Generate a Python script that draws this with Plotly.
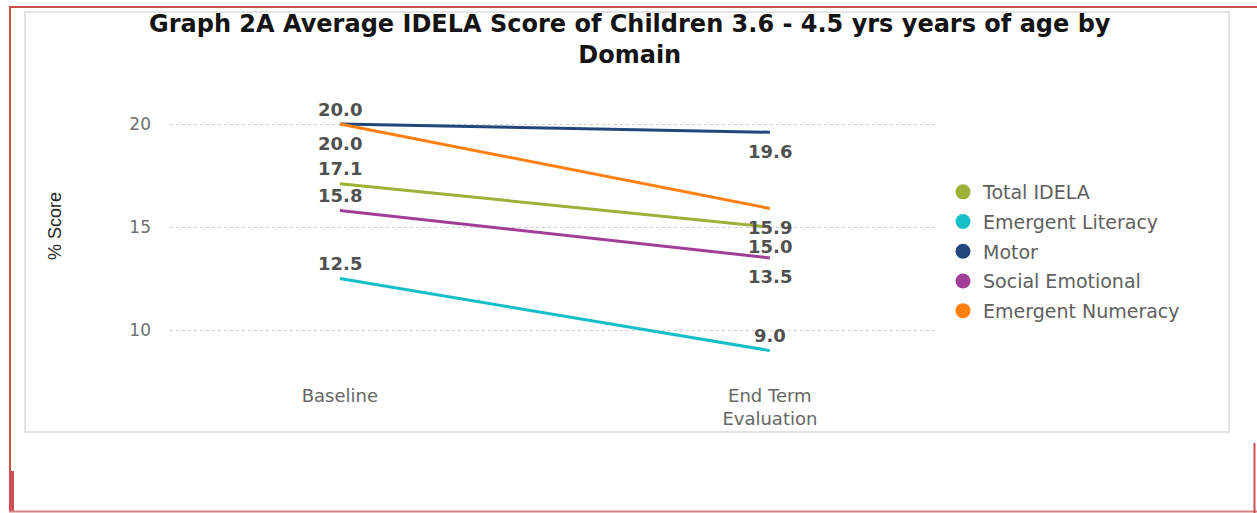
import plotly.graph_objects as go

# ---- data ----
categories = ["Baseline", "End Term Evaluation"]
tick_labels = ["Baseline", "End Term<br>Evaluation"]
series_names = ["Total IDELA", "Emergent Literacy", "Motor", "Social Emotional", "Emergent Numeracy"]
total_idela = [17.1, 15.0]
emergent_literacy = [12.5, 9.0]
motor = [20.0, 19.6]
social_emotional = [15.8, 13.5]
emergent_numeracy = [20.0, 15.9]
y_ticks = [10, 15, 20]
title_text = "Graph 2A Average IDELA Score of Children 3.6 - 4.5 yrs years of age by<br>Domain"

# ---- styles ----
colors = ["#9BB138", "#16BEC6", "#23477A", "#A23E98", "#FF7F0F"]
# label placement: +1 above point, -1 below point
label_side = [[1, -1], [1, 1], [1, -1], [1, -1], [-1, -1]]

W, H = 1257, 513
ML, MR, MT, MB = 170, 322, 93, 142
PW, PH = W - ML - MR, H - MT - MB


def px_x(px):
    return (px - ML) / PW


def px_y(py):
    return (H - MB - py) / PH


values = [total_idela, emergent_literacy, motor, social_emotional, emergent_numeracy]
x_idx = list(range(len(categories)))

fig = go.Figure()
for name, vals, col in zip(series_names, values, colors):
    fig.add_trace(go.Scatter(x=x_idx, y=vals, mode="lines", name=name,
                             line=dict(color=col, width=3), showlegend=False,
                             hoverinfo="skip"))

# legend entries (circle markers only)
for i, (name, col) in enumerate(zip(series_names, colors)):
    fig.add_trace(go.Scatter(x=[None], y=[None], mode="markers", name=name,
                             marker=dict(color=col, size=15, symbol="circle"),
                             legendgroup=f"g{i}", showlegend=True))

annotations = []
for vals, sides in zip(values, label_side):
    for xi, v, s in zip(x_idx, vals, sides):
        annotations.append(dict(x=xi, y=v, xref="x", yref="y", text=f"{v:.1f}",
                                showarrow=False, yshift=15 if s > 0 else -19,
                                font=dict(family="DejaVu Sans", size=18, color="#505050",
                                          weight="bold")))

annotations.append(dict(x=px_x(55), y=px_y(226), xref="paper", yref="paper",
                        text="% Score", textangle=-90, showarrow=False,
                        xanchor="center", yanchor="middle",
                        font=dict(family="Liberation Sans", size=18, color="#262626")))

annotations.append(dict(x=px_x(630), y=px_y(39.5), xref="paper", yref="paper",
                        text=title_text, showarrow=False, xanchor="center", yanchor="middle",
                        font=dict(family="DejaVu Sans", size=24, color="#141414",
                                  weight="bold")))

shapes = [
    # card
    dict(type="rect", xref="paper", yref="paper", x0=px_x(25), x1=px_x(1229),
         y0=px_y(432), y1=px_y(12), line=dict(color="#e3e3e3", width=2),
         fillcolor="rgba(0,0,0,0)", layer="below"),
    # red frame
    dict(type="line", xref="paper", yref="paper", x0=px_x(9), x1=px_x(1257),
         y0=px_y(7), y1=px_y(7), line=dict(color="#C9504F", width=2)),
    dict(type="line", xref="paper", yref="paper", x0=px_x(10), x1=px_x(10),
         y0=px_y(7), y1=px_y(512), line=dict(color="#C9504F", width=2)),
    dict(type="rect", xref="paper", yref="paper", x0=px_x(9), x1=px_x(14),
         y0=px_y(512), y1=px_y(471), line=dict(width=0), fillcolor="#C9504F"),
    dict(type="line", xref="paper", yref="paper", x0=px_x(9), x1=px_x(1257),
         y0=px_y(511.5), y1=px_y(511.5), line=dict(color="#DA7F7F", width=2)),
    dict(type="line", xref="paper", yref="paper", x0=px_x(1254.5), x1=px_x(1254.5),
         y0=px_y(443), y1=px_y(513), line=dict(color="#C9504F", width=2)),
]

fig.update_layout(
    width=W, height=H,
    margin=dict(l=ML, r=MR, t=MT, b=MB),
    paper_bgcolor="white", plot_bgcolor="white",
    xaxis=dict(range=[-0.395, 1.384], tickmode="array", tickvals=x_idx, ticktext=tick_labels,
               showgrid=False, zeroline=False, showline=False, ticks="",
               ticklabelstandoff=12,
               tickfont=dict(family="DejaVu Sans", size=18, color="#666666")),
    yaxis=dict(range=[8.01, 21.505], tickmode="array", tickvals=y_ticks,
               showgrid=True, gridcolor="#cfcfcf", griddash="dot", gridwidth=1,
               zeroline=False, showline=False, ticks="", ticklabelstandoff=18,
               tickfont=dict(family="DejaVu Sans", size=17, color="#707070")),
    legend=dict(x=px_x(943), y=px_y(173), xanchor="left", yanchor="top",
                traceorder="grouped", tracegroupgap=2, itemclick=False,
                font=dict(family="DejaVu Sans", size=19, color="#606060"),
                bgcolor="rgba(0,0,0,0)"),
    annotations=annotations,
    shapes=shapes,
    showlegend=True,
)

fig.write_html("out.html")
